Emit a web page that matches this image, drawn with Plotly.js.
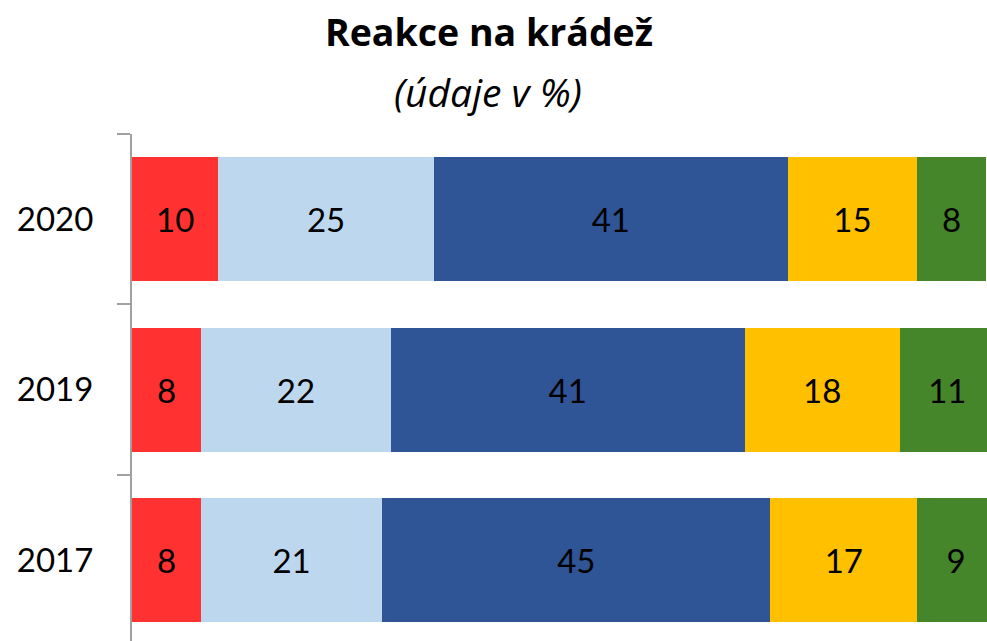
<!DOCTYPE html>
<html>
<head>
<meta charset="utf-8">
<script src="https://cdn.plot.ly/plotly-3.0.1.min.js"></script>
<style>html,body{margin:0;padding:0;background:#fff;overflow:hidden}</style>
</head>
<body>
<div id="chart" style="width:987px;height:641px"></div>
<script>
// Data
const years = ['2020', '2019', '2017'];
const series1 = [10, 8, 8];
const series2 = [25, 22, 21];
const series3 = [41, 41, 45];
const series4 = [15, 18, 17];
const series5 = [8, 11, 9];
const seriesValues = [series1, series2, series3, series4, series5];
const seriesColors = ['#FF3131', '#BDD7EE', '#2F5597', '#FFC000', '#46862B'];
const categoryOrder = ['2017', '2019', '2020'];
const titleText = 'Reakce na krádež';
const subtitleText = '(údaje v %)';

const FONT = 'Lato, "Open Sans", sans-serif';
const TFONT = '"Open Sans", Lato, sans-serif';

const traces = seriesValues.map((vals, i) => ({
  type: 'bar',
  orientation: 'h',
  y: years,
  x: vals,
  text: vals.map(String),
  textposition: 'inside',
  insidetextanchor: 'middle',
  textangle: 0,
  constraintext: 'none',
  textfont: {family: FONT, size: 33, color: '#000000'},
  marker: {color: seriesColors[i], line: {width: 0}},
  hoverinfo: 'skip',
  showlegend: false
}));

const layout = {
  width: 987,
  height: 641,
  margin: {l: 132, r: 0, t: 134, b: 0, pad: 0},
  paper_bgcolor: '#ffffff',
  plot_bgcolor: '#ffffff',
  barmode: 'stack',
  bargap: 0.273,
  showlegend: false,
  title: {
    text: titleText,
    font: {family: TFONT, size: 37.5, color: '#000000', weight: 'bold'},
    xref: 'container', x: 489 / 987, xanchor: 'center',
    yref: 'container', y: 1 - 33 / 641, yanchor: 'middle'
  },
  annotations: [{
    text: '<i>' + subtitleText + '</i>',
    xref: 'paper', yref: 'paper',
    x: (488 - 132) / 855, y: 1 + (134 - 91) / 507,
    xanchor: 'center', yanchor: 'middle',
    showarrow: false,
    font: {family: TFONT, size: 39, color: '#000000'}
  }],
  xaxis: {
    range: [0, 99.1],
    visible: false,
    fixedrange: true
  },
  yaxis: {
    type: 'category',
    categoryorder: 'array',
    categoryarray: categoryOrder,
    range: [-0.474, 2.5],
    showline: true,
    linecolor: '#A0A0A0',
    linewidth: 2,
    ticks: 'outside',
    tickson: 'boundaries',
    ticklen: 13,
    tickwidth: 2,
    tickcolor: '#A0A0A0',
    tickfont: {family: FONT, size: 33, color: '#000000'},
    ticklabelstandoff: 30,
    showgrid: false,
    zeroline: false,
    fixedrange: true
  }
};

Plotly.newPlot('chart', traces, layout, {displayModeBar: false, staticPlot: true});
</script>
</body>
</html>
